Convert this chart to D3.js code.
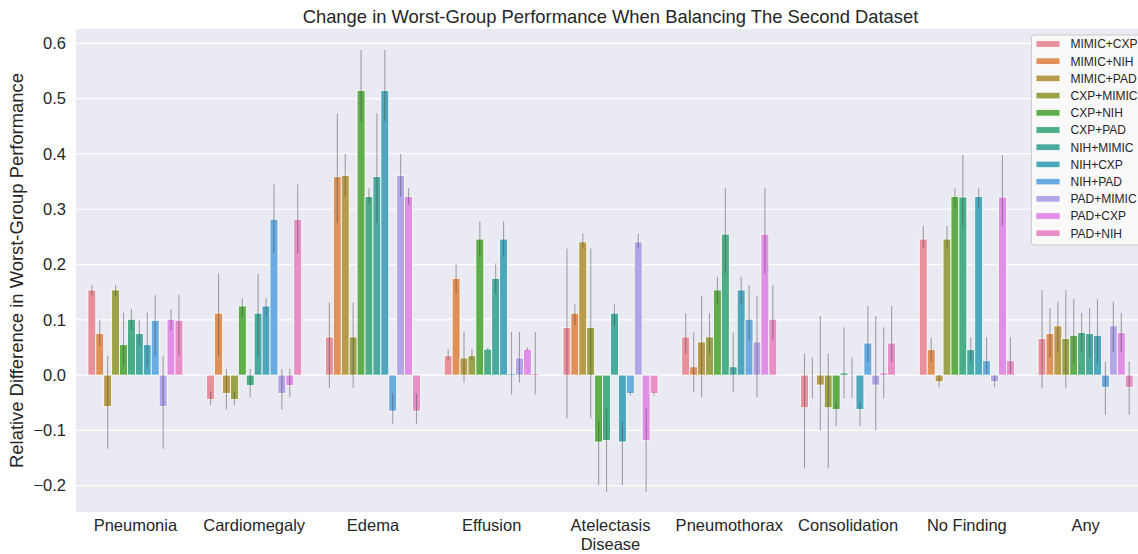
<!DOCTYPE html>
<html lang="en">
<head>
<meta charset="utf-8">
<title>Worst-Group Performance</title>
<script src="https://cdn.jsdelivr.net/npm/d3@7"></script>
<style>
  body { margin: 0; background: #fff; overflow: hidden; }
  svg { display: block; font-family: "Liberation Sans", Arial, sans-serif; }
</style>
</head>
<body>
<script>
// categories on the x axis
var categories = ["Pneumonia", "Cardiomegaly", "Edema", "Effusion", "Atelectasis",
                  "Pneumothorax", "Consolidation", "No Finding", "Any"];

// hue names (legend order)
var hues = ["MIMIC+CXP", "MIMIC+NIH", "MIMIC+PAD", "CXP+MIMIC", "CXP+NIH", "CXP+PAD",
            "NIH+MIMIC", "NIH+CXP", "NIH+PAD", "PAD+MIMIC", "PAD+CXP", "PAD+NIH"];

var hueColors = ["#e8909c", "#e0915a", "#b99c4b", "#9ca24a", "#5fad4b", "#4cae86",
                 "#4baa9f", "#4ea8bd", "#6aabe0", "#b2a5e8", "#e08ee6", "#e78fc6"];

// bar heights, one value per category
var mimicCxp = [0.154, -0.044, 0.069, 0.035, 0.086, 0.069, -0.059, 0.246, 0.066];
var mimicNih = [0.075, 0.112, 0.359, 0.175, 0.112, 0.015, 0.000, 0.046, 0.075];
var mimicPad = [-0.057, -0.033, 0.361, 0.031, 0.241, 0.060, -0.018, -0.012, 0.089];
var cxpMimic = [0.154, -0.044, 0.069, 0.035, 0.086, 0.069, -0.059, 0.246, 0.066];
var cxpNih   = [0.055, 0.125, 0.515, 0.246, -0.121, 0.154, -0.062, 0.323, 0.072];
var cxpPad   = [0.101, -0.019, 0.323, 0.047, -0.118, 0.255, 0.004, 0.322, 0.077];
var nihMimic = [0.075, 0.112, 0.359, 0.175, 0.112, 0.015, 0.000, 0.046, 0.075];
var nihCxp   = [0.055, 0.125, 0.515, 0.246, -0.121, 0.154, -0.062, 0.323, 0.072];
var nihPad   = [0.099, 0.282, -0.065, 0.003, -0.033, 0.101, 0.058, 0.026, -0.022];
var padMimic = [-0.057, -0.033, 0.361, 0.031, 0.241, 0.060, -0.018, -0.012, 0.089];
var padCxp   = [0.101, -0.019, 0.323, 0.047, -0.118, 0.255, 0.004, 0.322, 0.077];
var padNih   = [0.099, 0.282, -0.065, 0.003, -0.033, 0.101, 0.058, 0.026, -0.022];

// confidence intervals [low, high] per category
var mimicCxpCi = [[0.143,0.163],[-0.054,-0.030],[-0.023,0.131],[0.027,0.047],[-0.078,0.229],[0.039,0.112],[-0.169,0.039],[0.229,0.270],[-0.024,0.154]];
var mimicNihCi = [[0.053,0.100],[0.033,0.184],[0.275,0.473],[0.147,0.202],[0.090,0.128],[-0.031,0.077],[-0.042,0.032],[0.024,0.068],[0.032,0.121]];
var mimicPadCi = [[-0.133,0.035],[-0.062,0.011],[0.323,0.400],[-0.014,0.078],[0.229,0.256],[-0.040,0.143],[-0.100,0.107],[-0.022,0.000],[0.042,0.133]];
var cxpMimicCi = [[0.143,0.163],[-0.054,-0.030],[-0.023,0.131],[0.027,0.047],[-0.078,0.229],[0.039,0.112],[-0.169,0.039],[0.229,0.270],[-0.024,0.154]];
var cxpNihCi   = [[0.015,0.113],[0.105,0.139],[0.459,0.588],[0.214,0.278],[-0.199,-0.084],[0.128,0.178],[-0.092,-0.048],[0.302,0.338],[0.021,0.137]];
var cxpPadCi   = [[0.081,0.119],[-0.040,0.011],[0.308,0.338],[0.044,0.050],[-0.211,-0.060],[0.184,0.339],[-0.042,0.086],[0.271,0.398],[0.042,0.113]];
var nihMimicCi = [[0.053,0.100],[0.033,0.184],[0.275,0.473],[0.147,0.202],[0.090,0.128],[-0.031,0.077],[-0.042,0.032],[0.024,0.068],[0.032,0.121]];
var nihCxpCi   = [[0.015,0.113],[0.105,0.139],[0.459,0.588],[0.214,0.278],[-0.199,-0.084],[0.128,0.178],[-0.092,-0.048],[0.302,0.338],[0.021,0.137]];
var nihPadCi   = [[0.036,0.145],[0.221,0.345],[-0.088,-0.033],[-0.035,0.078],[-0.037,-0.030],[0.063,0.163],[0.024,0.125],[0.003,0.069],[-0.072,0.024]];
var padMimicCi = [[-0.133,0.035],[-0.062,0.011],[0.323,0.400],[-0.014,0.078],[0.229,0.256],[-0.040,0.143],[-0.100,0.107],[-0.022,0.000],[0.042,0.133]];
var padCxpCi   = [[0.081,0.119],[-0.040,0.011],[0.308,0.338],[0.044,0.050],[-0.211,-0.060],[0.184,0.339],[-0.042,0.086],[0.271,0.398],[0.042,0.113]];
var padNihCi   = [[0.036,0.145],[0.221,0.345],[-0.088,-0.033],[-0.035,0.078],[-0.037,-0.030],[0.063,0.163],[0.024,0.125],[0.003,0.069],[-0.072,0.024]];

var yTicks = [-0.2, -0.1, 0.0, 0.1, 0.2, 0.3, 0.4, 0.5, 0.6];

var seriesValues = [mimicCxp, mimicNih, mimicPad, cxpMimic, cxpNih, cxpPad,
                    nihMimic, nihCxp, nihPad, padMimic, padCxp, padNih];
var seriesCi = [mimicCxpCi, mimicNihCi, mimicPadCi, cxpMimicCi, cxpNihCi, cxpPadCi,
                nihMimicCi, nihCxpCi, nihPadCi, padMimicCi, padCxpCi, padNihCi];

// flatten into rows for d3
var rows = [];
categories.forEach(function(c, ci) {
    hues.forEach(function(h, hi) {
        rows.push({cat: c, hue: h, color: hueColors[hi],
                   value: seriesValues[hi][ci], lo: seriesCi[hi][ci][0], hi: seriesCi[hi][ci][1]});
    });
});

var width = 1138, height = 554;
var plot = {left: 76, right: 1145, top: 29, bottom: 512};

var svg = d3.select("body").append("svg")
    .attr("width", width)
    .attr("height", height);

var x = d3.scaleBand().domain(categories).range([plot.left, plot.right]).padding(0);
var xHue = d3.scaleBand().domain(hues).range([x.bandwidth() * 0.1, x.bandwidth() * 0.9]).padding(0);
var y = d3.scaleLinear().domain([-0.2476, 0.626]).range([plot.bottom, plot.top]);

// background
svg.append("rect")
    .attr("x", plot.left).attr("y", plot.top)
    .attr("width", plot.right - plot.left).attr("height", plot.bottom - plot.top)
    .attr("fill", "#eaeaf2");

// grid
svg.append("g").selectAll("line")
    .data(yTicks).enter().append("line")
    .attr("x1", plot.left).attr("x2", plot.right)
    .attr("y1", function(d) { return y(d); })
    .attr("y2", function(d) { return y(d); })
    .attr("stroke", "#fff").attr("stroke-width", 1.2);

// y axis labels
var yAxis = d3.axisLeft(y).tickValues(yTicks).tickFormat(d3.format(".1f")).tickSize(0).tickPadding(10);
var gy = svg.append("g").attr("transform", "translate(" + plot.left + ",0)").call(yAxis);
gy.select(".domain").remove();
gy.selectAll("text").attr("font-size", 16.5).attr("fill", "#262626")
    .attr("font-family", "Liberation Sans, Arial, sans-serif");

// x axis labels
var xAxis = d3.axisBottom(x).tickSize(0).tickPadding(7);
var gx = svg.append("g").attr("transform", "translate(0," + plot.bottom + ")").call(xAxis);
gx.select(".domain").remove();
gx.selectAll("text").attr("font-size", 16.5).attr("fill", "#262626")
    .attr("font-family", "Liberation Sans, Arial, sans-serif");

// bars
svg.append("g").selectAll("rect")
    .data(rows).enter().append("rect")
    .attr("x", function(d) { return x(d.cat) + xHue(d.hue); })
    .attr("width", xHue.bandwidth())
    .attr("y", function(d) { return y(Math.max(0, d.value)); })
    .attr("height", function(d) { return Math.abs(y(d.value) - y(0)); })
    .attr("fill", function(d) { return d.color; })
    .attr("stroke", "#fff").attr("stroke-width", 0.8);

// error bars
svg.append("g").selectAll("line")
    .data(rows).enter().append("line")
    .attr("x1", function(d) { return x(d.cat) + xHue(d.hue) + xHue.bandwidth() / 2; })
    .attr("x2", function(d) { return x(d.cat) + xHue(d.hue) + xHue.bandwidth() / 2; })
    .attr("y1", function(d) { return y(d.lo); })
    .attr("y2", function(d) { return y(d.hi); })
    .attr("stroke", "#424242").attr("stroke-opacity", 0.45).attr("stroke-width", 1.1);

// title and axis titles
svg.append("text")
    .attr("x", (plot.left + plot.right) / 2).attr("y", 23)
    .attr("text-anchor", "middle").attr("font-size", 18.4).attr("fill", "#262626")
    .text("Change in Worst-Group Performance When Balancing The Second Dataset");

svg.append("text")
    .attr("transform", "translate(23," + ((plot.top + plot.bottom) / 2) + ") rotate(-90)")
    .attr("text-anchor", "middle").attr("font-size", 18.4).attr("fill", "#262626")
    .text("Relative Difference in Worst-Group Performance");

svg.append("text")
    .attr("x", (plot.left + plot.right) / 2).attr("y", 550.3)
    .attr("text-anchor", "middle").attr("font-size", 16.5).attr("fill", "#262626")
    .text("Disease");

// legend
var legend = svg.append("g").attr("transform", "translate(1031.5,35)");
legend.append("rect")
    .attr("width", 112).attr("height", 210).attr("rx", 3)
    .attr("fill", "#fbfbfc").attr("fill-opacity", 0.85)
    .attr("stroke", "#cccccc").attr("stroke-width", 1);

var item = legend.selectAll("g.item")
    .data(hues).enter().append("g")
    .attr("class", "item")
    .attr("transform", function(d, i) { return "translate(0," + (9 + i * 17.2) + ")"; });

item.append("rect")
    .attr("x", 4.5).attr("y", -3.3).attr("width", 24).attr("height", 6.6)
    .attr("fill", function(d, i) { return hueColors[i]; })
    .attr("stroke", "#fff").attr("stroke-width", 0.8);

item.append("text")
    .attr("x", 39).attr("y", 4.3)
    .attr("font-size", 12).attr("fill", "#262626")
    .text(function(d) { return d; });
</script>
</body>
</html>
